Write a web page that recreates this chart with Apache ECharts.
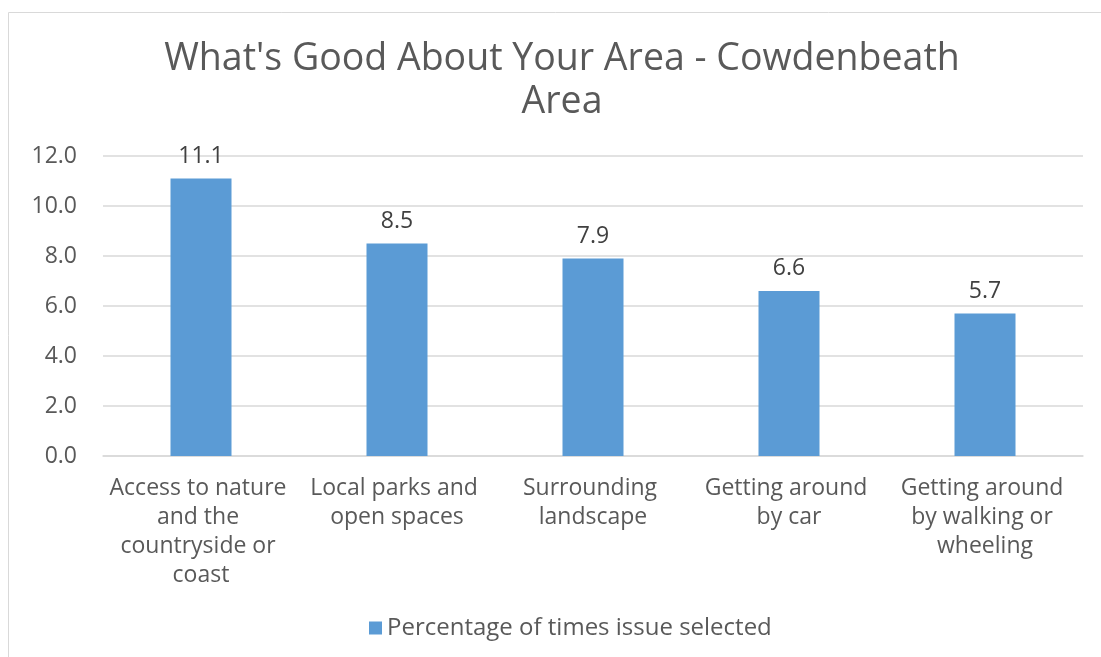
<!DOCTYPE html>
<html><head><meta charset="utf-8">
<script src="https://cdn.jsdelivr.net/npm/echarts@6/dist/echarts.min.js"></script>
<style>html,body{margin:0;padding:0;background:#fff}#c{width:1101px;height:657px}</style>
</head><body><div id="c"></div>
<script>
const categories = ["Access to nature and the countryside or coast", "Local parks and open spaces", "Surrounding landscape", "Getting around by car", "Getting around by walking or wheeling"];
const values = [11.1, 8.5, 7.9, 6.6, 5.7];
const seriesName = "Percentage of times issue selected";
const titleText = "What's Good About Your Area - Cowdenbeath\nArea";

const chart = echarts.init(document.getElementById('c'));
const font = "'Open Sans', sans-serif";
chart.setOption({
  animation: false,
  textStyle: {fontFamily: font},
  graphic: [{type: 'rect', shape: {x: 8.5, y: 12.5, width: 1200, height: 800}, style: {fill: 'none', stroke: '#d9d9d9', lineWidth: 1}, silent: true}],
  title: {text: titleText, left: 557, textAlign: 'center', top: 33, textStyle: {fontFamily: font, fontSize: 37.5, fontWeight: 'normal', color: '#595959', lineHeight: 43}},
  grid: {left: 103, right: 18, top: 156, bottom: 201},
  legend: {bottom: 12, left: 364, itemWidth: 13, itemHeight: 13, icon: 'rect', itemGap: 9, textStyle: {fontFamily: font, fontSize: 24, color: '#595959'}},
  xAxis: {type: 'category', data: categories,
    axisLine: {lineStyle: {color: '#d9d9d9', width: 1.5}}, axisTick: {show: false},
    axisLabel: {interval: 0, color: '#595959', fontSize: 23, fontFamily: font, lineHeight: 29, width: 194, overflow: 'break', margin: 18}},
  yAxis: {type: 'value', min: 0, max: 12, interval: 2,
    axisLabel: {formatter: v => v.toFixed(1), color: '#595959', fontSize: 23, fontFamily: font, margin: 26},
    splitLine: {lineStyle: {color: '#d9d9d9', width: 1.5}}, axisLine: {show: false}, axisTick: {show: false}},
  series: [{type: 'bar', name: seriesName, data: values, barWidth: 61, itemStyle: {color: '#5b9bd5'},
    label: {show: true, position: 'top', distance: 11, formatter: p => p.value.toFixed(1), color: '#404040', fontSize: 23, fontFamily: font}}]
});
</script></body></html>
